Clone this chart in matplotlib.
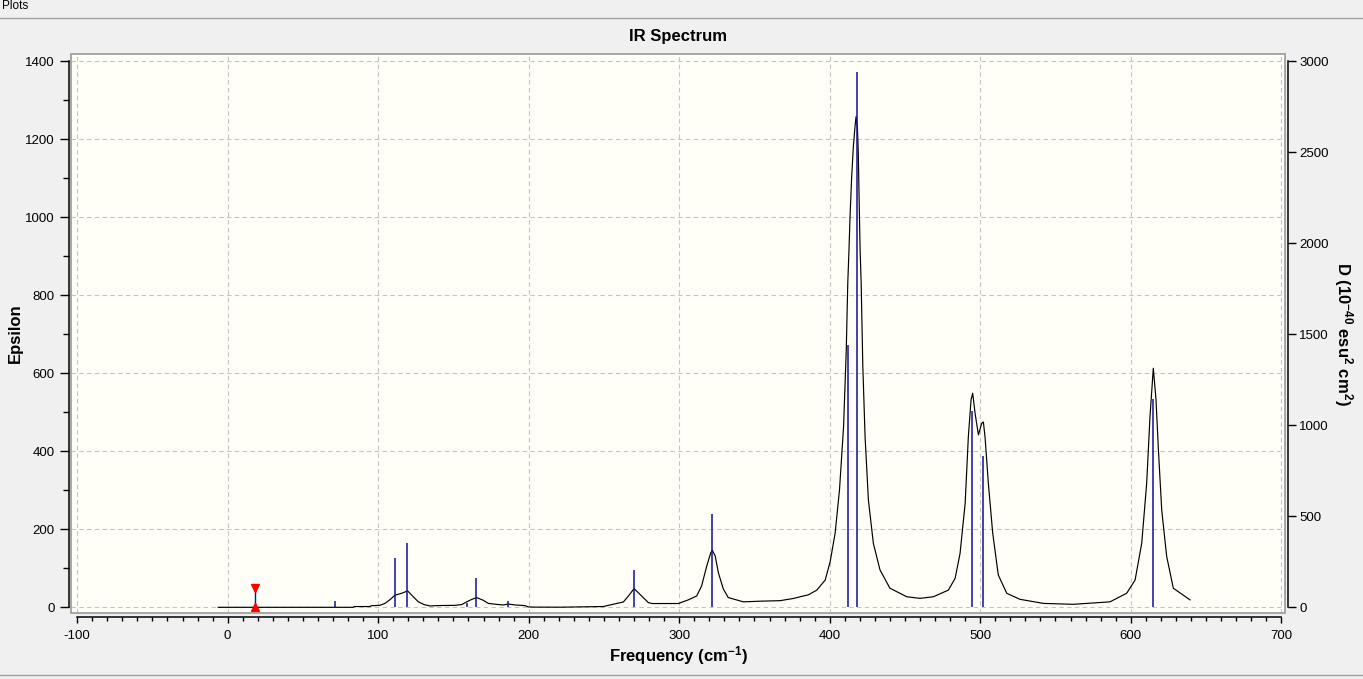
import matplotlib
matplotlib.use("Agg")
import matplotlib.pyplot as plt
from matplotlib.patches import Rectangle
from matplotlib.lines import Line2D
from matplotlib.ticker import MultipleLocator

# ============================
# DATA
# ============================

# broadened spectrum (black curve), Epsilon vs frequency
curve_freq = [-6.3, 83.5, 84.0, 94.5, 95.2, 101.0, 104.5, 108.0, 111.1, 115.6,
              119.6, 123.3, 126.7, 130.5, 134.4, 141.0, 151.0, 155.5, 158.8, 162.0,
              165.4, 169.8, 173.2, 178.7, 183.1, 186.5, 190.9, 197.5, 199.7, 204.2,
              220.8, 249.6, 251.8, 262.9, 266.5, 270.0, 274.0, 279.5, 282.0, 299.4,
              306.0, 311.6, 314.9, 318.3, 321.0, 322.0, 323.9, 326.0, 329.3, 332.6,
              342.6, 353.7, 367.0, 375.8, 380.3, 385.8, 391.4, 397.0, 400.3, 403.6,
              406.5, 409.2, 411.0, 412.0, 412.8, 413.5, 414.6, 415.7, 416.8, 417.5,
              418.4, 419.0, 419.5, 420.2, 420.9, 422.0, 423.5, 425.7, 429.0, 433.4,
              440.0, 451.2, 460.0, 468.8, 478.8, 483.3, 486.6, 490.0, 492.1, 493.9,
              495.0, 496.6, 498.8, 501.0, 502.1, 503.2, 505.4, 508.3, 512.0, 517.6,
              526.4, 542.0, 561.9, 586.2, 597.3, 602.9, 607.3, 610.6, 612.8, 615.0,
              616.8, 618.4, 620.6, 623.9, 628.3, 639.4]
curve_eps = [0, 0, 2, 2, 4, 5, 10, 20, 31, 36,
             42, 27, 14, 7, 3.5, 4.5, 5, 7, 14, 20,
             25, 18, 10, 7.5, 6, 8.5, 6, 4.3, 1, 0.5,
             0.3, 2, 4, 13.7, 30, 48, 33, 12, 9.7, 9.7,
             19, 29, 55, 106, 140, 146, 132, 89, 47, 25,
             14, 15.7, 17, 22.6, 27, 32, 44, 70, 117, 190,
             301, 463, 660, 831, 916, 1002, 1104, 1181, 1232, 1258,
             1232, 1164, 1053, 916, 831, 617, 437, 275, 164, 96,
             49, 27, 23, 27, 44, 74, 138, 267, 437, 532,
             549, 497, 442, 472, 475, 437, 318, 190, 83, 36,
             20.5, 10, 7.7, 14, 36, 70, 164, 318, 489, 613,
             532, 403, 249, 130, 49, 19]

# stick spectrum (blue lines), dipole strength D
stick_freq = [71.4, 97.6, 111.3, 119.4, 159.2, 165.3, 186.5, 262.9, 270.2,
              322.0, 412.4, 417.9, 494.8, 502.1, 615.0]
stick_d = [36, 3, 270, 352, 25, 160, 35, 4, 204,
           510, 1439, 2939, 1079, 833, 1147]

# selection cursor
marker_freq = 18.1
marker_eps = 50

# ============================
# STYLE
# ============================
plt.rcParams["font.family"] = ["Liberation Sans", "DejaVu Sans"]
plt.rcParams["mathtext.default"] = "regular"
plt.rcParams["axes.unicode_minus"] = False

W, H = 1363, 679
bg = "#f0f0f0"
grid_col = "#c4c4c4"
stick_col = "#10109a"

fig = plt.figure(figsize=(W / 100, H / 100), dpi=100, facecolor=bg)

# window header
fig.text(2 / W, 1 - 6 / H, "Plots", fontsize=8.5, va="center", ha="left")
fig.add_artist(Line2D([0, 1], [1 - 17.5 / H] * 2, color="#a0a0a0", lw=1))
fig.add_artist(Line2D([0, 1], [1 - 674.5 / H] * 2, color="#a0a0a0", lw=1))

left, right, top, bottom = 71, 1285, 54, 613
ax = fig.add_axes([left / W, 1 - bottom / H, (right - left) / W, (bottom - top) / H])
ax.set_facecolor("#fffff8")

ax.set_xlim(-104.1, 702.5)
ax.set_ylim(-14.6, 1418.7)

# grid
ax.grid(True, which="major", color=grid_col, linestyle=(0, (4, 3)), lw=0.8)
ax.set_axisbelow(True)

# curve
ax.plot(curve_freq, curve_eps, color="black", lw=0.85, zorder=3)

# cursor
ax.vlines(marker_freq, 0, marker_eps, color=stick_col, lw=1.0, zorder=4)
ax.plot([marker_freq], [marker_eps], marker="v", color="red", ms=5.5, zorder=5, clip_on=False)
ax.plot([marker_freq], [0], marker="^", color="red", ms=5.5, zorder=5, clip_on=False)

# ticks & spines
ax.xaxis.set_major_locator(MultipleLocator(100))
ax.xaxis.set_minor_locator(MultipleLocator(10))
ax.yaxis.set_major_locator(MultipleLocator(200))
ax.yaxis.set_minor_locator(MultipleLocator(100))
ax.tick_params(axis="x", which="major", length=4.3, width=1, labelsize=9.5, pad=5)
ax.tick_params(axis="x", which="minor", length=3, width=1)
ax.tick_params(axis="y", which="major", length=6.2, width=1, labelsize=9.5, pad=4)
ax.tick_params(axis="y", which="minor", length=4.5, width=1)

for s in ["top", "right"]:
    ax.spines[s].set_visible(False)
ax.spines["left"].set_position(("outward", 1.7))
ax.spines["bottom"].set_position(("outward", 2.7))
ax.spines["left"].set_bounds(0, 1400)
ax.spines["bottom"].set_bounds(-100, 700)
ax.spines["left"].set_linewidth(1.1)
ax.spines["bottom"].set_linewidth(1.1)

# frame around plotting area
ax.add_patch(Rectangle((0, 0), 1, 1, transform=ax.transAxes, fill=False,
                       edgecolor="#a0a0a0", lw=1.3, zorder=6, clip_on=False))

# right axis with sticks
ax2 = ax.twinx()
ax2.set_ylim(-14.6 * 3000 / 1400, 1418.7 * 3000 / 1400)
ax2.vlines(stick_freq, 0, stick_d, color=stick_col, lw=1.1, zorder=4)
ax2.yaxis.set_major_locator(MultipleLocator(500))
ax2.tick_params(axis="y", which="major", length=6, width=1, labelsize=9.5, pad=2)
for s in ["top", "left", "bottom"]:
    ax2.spines[s].set_visible(False)
ax2.spines["right"].set_position(("outward", 2.4))
ax2.spines["right"].set_bounds(0, 3000)
ax2.spines["right"].set_linewidth(1.1)

# texts
fig.text(678 / W, 1 - 36 / H, "IR Spectrum", fontsize=12, fontweight="bold",
         ha="center", va="center")
fig.text(678 / W, 1 - 656 / H, "Frequency (cm$^{-1}$)", fontsize=12,
         fontweight="bold", ha="center", va="center")
fig.text(15 / W, 1 - 333.5 / H, "Epsilon", fontsize=12, fontweight="bold",
         ha="center", va="center", rotation=90)
fig.text(1343 / W, 1 - 333.5 / H, "D (10$^{-40}$ esu$^{2}$ cm$^{2}$)", fontsize=12,
         fontweight="bold", ha="center", va="center", rotation=270)

fig.savefig("out.png", dpi=100, facecolor=bg)
